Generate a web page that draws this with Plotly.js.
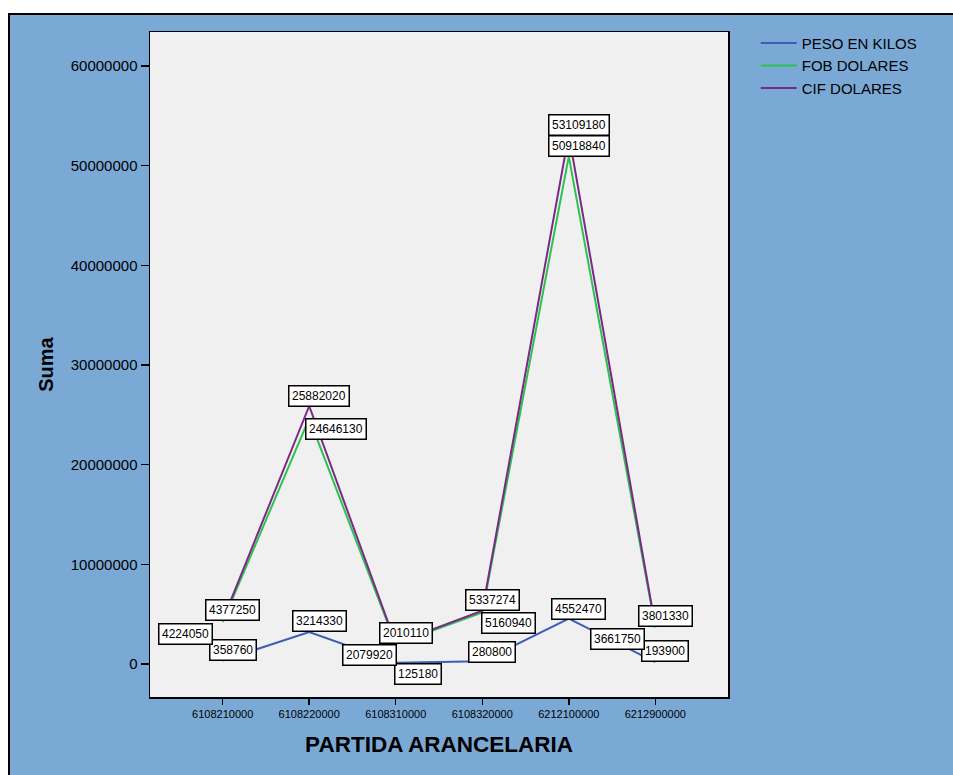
<!DOCTYPE html>
<html>
<head>
<meta charset="utf-8">
<script src="https://cdn.plot.ly/plotly-3.0.1.min.js"></script>
<style>
  html, body { margin: 0; padding: 0; background: #ffffff; width: 953px; height: 775px; overflow: hidden; }
  #frame { position: absolute; left: 8px; top: 13px; width: 945px; height: 762px;
           border-top: 2px solid #000; border-left: 2px solid #000; background: #7BA9D6; }
  #chart { width: 943px; height: 760px; }
</style>
</head>
<body>
<div id="frame"><div id="chart"></div></div>
<script>
// Tariff headings on the category axis
const categories = ['6108210000', '6108220000', '6108310000', '6108320000', '6212100000', '6212900000'];

// Summed values per heading
const pesoKilos  = [358760, 3214330, 125180, 280800, 4552470, 193900];
const fobDolares = [4224050, 24646130, 2010110, 5160940, 50918840, 3661750];
const cifDolares = [4377250, 25882020, 2079920, 5337274, 53109180, 3801330];

const seriesNames = ['PESO EN KILOS', 'FOB DOLARES', 'CIF DOLARES'];
const seriesColors = ['#3D5CB8', '#2DC24F', '#7A2A86'];

// Pixel offsets of each value label from its point (x right, y up)
const labelShift = [
  [[10, 10], [10, 11], [22, -11], [10, 9], [10, 10], [10, 11]],
  [[-37, -12], [27, -11], [10, 11], [26, -10], [10, 10], [-38, -11]],
  [[10, 10], [10, 10], [-26, -12], [10, 11], [10, 10], [10, 10]]
];

const seriesValues = [pesoKilos, fobDolares, cifDolares];

const traces = seriesValues.map((vals, i) => ({
  type: 'scatter',
  mode: 'lines',
  name: seriesNames[i],
  x: categories,
  y: vals,
  line: { color: seriesColors[i], width: 2 },
  hoverinfo: 'x+y+name'
}));

// Value labels: white boxes placed by category index on the category axis
const annotations = [];
seriesValues.forEach((vals, s) => {
  vals.forEach((v, k) => {
    annotations.push({
      x: k, y: v, xref: 'x', yref: 'y',
      text: String(v),
      showarrow: false,
      xshift: labelShift[s][k][0],
      yshift: labelShift[s][k][1],
      bgcolor: '#ffffff',
      bordercolor: '#000000',
      borderwidth: 1.5,
      borderpad: 2.5,
      font: { family: 'Liberation Sans, Arial, sans-serif', size: 12, color: '#000' }
    });
  });
});

const layout = {
  width: 943,
  height: 760,
  paper_bgcolor: '#7BA9D6',
  plot_bgcolor: '#F0F0F0',
  margin: { l: 140, r: 225, t: 17, b: 78 },
  font: { family: 'Liberation Sans, Arial, sans-serif', color: '#000' },
  showlegend: true,
  legend: {
    x: 1.048, xanchor: 'left', y: 1.008, yanchor: 'top',
    bgcolor: 'rgba(0,0,0,0)',
    font: { size: 15, color: '#000' },
    itemwidth: 36,
    tracegroupgap: 0
  },
  xaxis: {
    type: 'category',
    range: [-0.84, 5.84],
    showgrid: false, zeroline: false,
    showline: true, mirror: true, linecolor: '#000', linewidth: 1.5,
    ticks: 'outside', ticklen: 6, tickwidth: 1.5, tickcolor: '#000',
    tickfont: { size: 11 },
    title: { text: 'PARTIDA ARANCELARIA', font: { size: 22.5, weight: 'bold' }, standoff: 17 }
  },
  yaxis: {
    range: [-3310000, 63400000],
    dtick: 10000000,
    tickformat: 'd',
    showgrid: false, zeroline: false,
    showline: true, mirror: true, linecolor: '#000', linewidth: 1.5,
    ticks: 'outside', ticklen: 8, tickwidth: 1.5, tickcolor: '#000',
    tickfont: { size: 15 },
    title: { text: 'Suma', font: { size: 20, weight: 'bold' }, standoff: 12 }
  },
  annotations: annotations
};

Plotly.newPlot('chart', traces, layout, { displayModeBar: false, staticPlot: true });
</script>
</body>
</html>
